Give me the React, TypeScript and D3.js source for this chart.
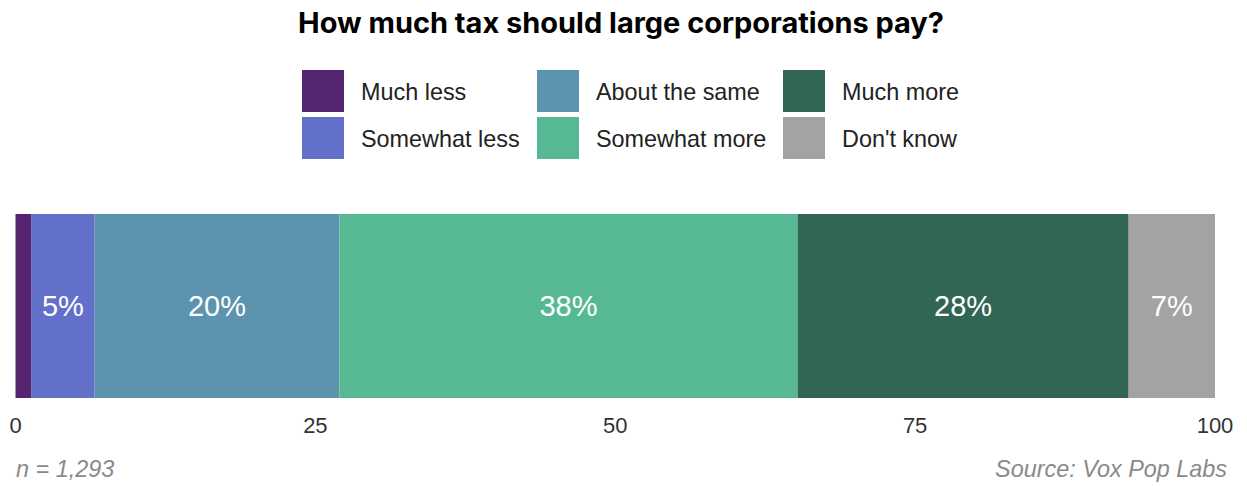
import React from "react";
import * as d3 from "d3";

const categories = ["Much less", "Somewhat less", "About the same", "Somewhat more", "Much more", "Don't know"];
const values = [1.3, 5.3, 20.4, 38.2, 27.6, 7.2];
const colors = ["#55266f", "#6270ca", "#5c93ae", "#57b993", "#326654", "#a3a3a3"];
const ticks = [0, 25, 50, 75, 100];
const title = "How much tax should large corporations pay?";
const note = "n = 1,293";
const source = "Source: Vox Pop Labs";

export default function App() {
  const W = 1247, H = 487;
  const x = d3.scaleLinear().domain([0, 100]).range([15.5, 1215]);
  const y0 = 214, y1 = 398;
  const stack = values.reduce<{ start: number; end: number }[]>((acc, v) => {
    const s = acc.length ? acc[acc.length - 1].end : 0;
    acc.push({ start: s, end: s + v });
    return acc;
  }, []);
  const legendCols = [302, 537, 783];
  const legendRows = [70, 117];
  const font = "'Liberation Sans', Arial, sans-serif";
  return (
    <svg width={W} height={H} style={{ position: "absolute", left: 0, top: 0, background: "#fff" }} fontFamily={font}>
      <text x={621} y={33} textAnchor="middle" fontFamily="Inter, sans-serif" fontWeight={700} fontSize={28} fill="#000"
        textLength={646} lengthAdjust="spacingAndGlyphs">
        {title}
      </text>
      {categories.map((c, i) => {
        const col = Math.floor(i / 2);
        const row = i % 2;
        const lx = legendCols[col];
        const ly = legendRows[row];
        return (
          <g key={c}>
            <rect x={lx} y={ly} width={42} height={42} fill={colors[i]} />
            <text x={lx + 59} y={ly + 22} dy="0.35em" fontSize={23.4} fill="#222">
              {c}
            </text>
          </g>
        );
      })}
      {stack.map((s, i) => (
        <rect key={categories[i]} x={x(s.start)} y={y0} width={x(s.end) - x(s.start)} height={y1 - y0} fill={colors[i]} />
      ))}
      {stack.map((s, i) =>
        values[i] >= 3 ? (
          <text
            key={"l" + i}
            x={(x(s.start) + x(s.end)) / 2}
            y={(y0 + y1) / 2}
            dy="0.35em"
            textAnchor="middle"
            fontSize={29}
            fill="#fff"
          >
            {Math.round(values[i]) + "%"}
          </text>
        ) : null
      )}
      {ticks.map((t) => (
        <text key={t} x={x(t)} y={425} dy="0.35em" textAnchor="middle" fontSize={22} fill="#333">
          {t}
        </text>
      ))}
      <text x={16} y={477} fontSize={23.4} fontStyle="italic" fill="#8a8a8a">
        {note}
      </text>
      <text x={1227} y={477} textAnchor="end" fontSize={23.4} fontStyle="italic" fill="#8a8a8a">
        {source}
      </text>
    </svg>
  );
}
